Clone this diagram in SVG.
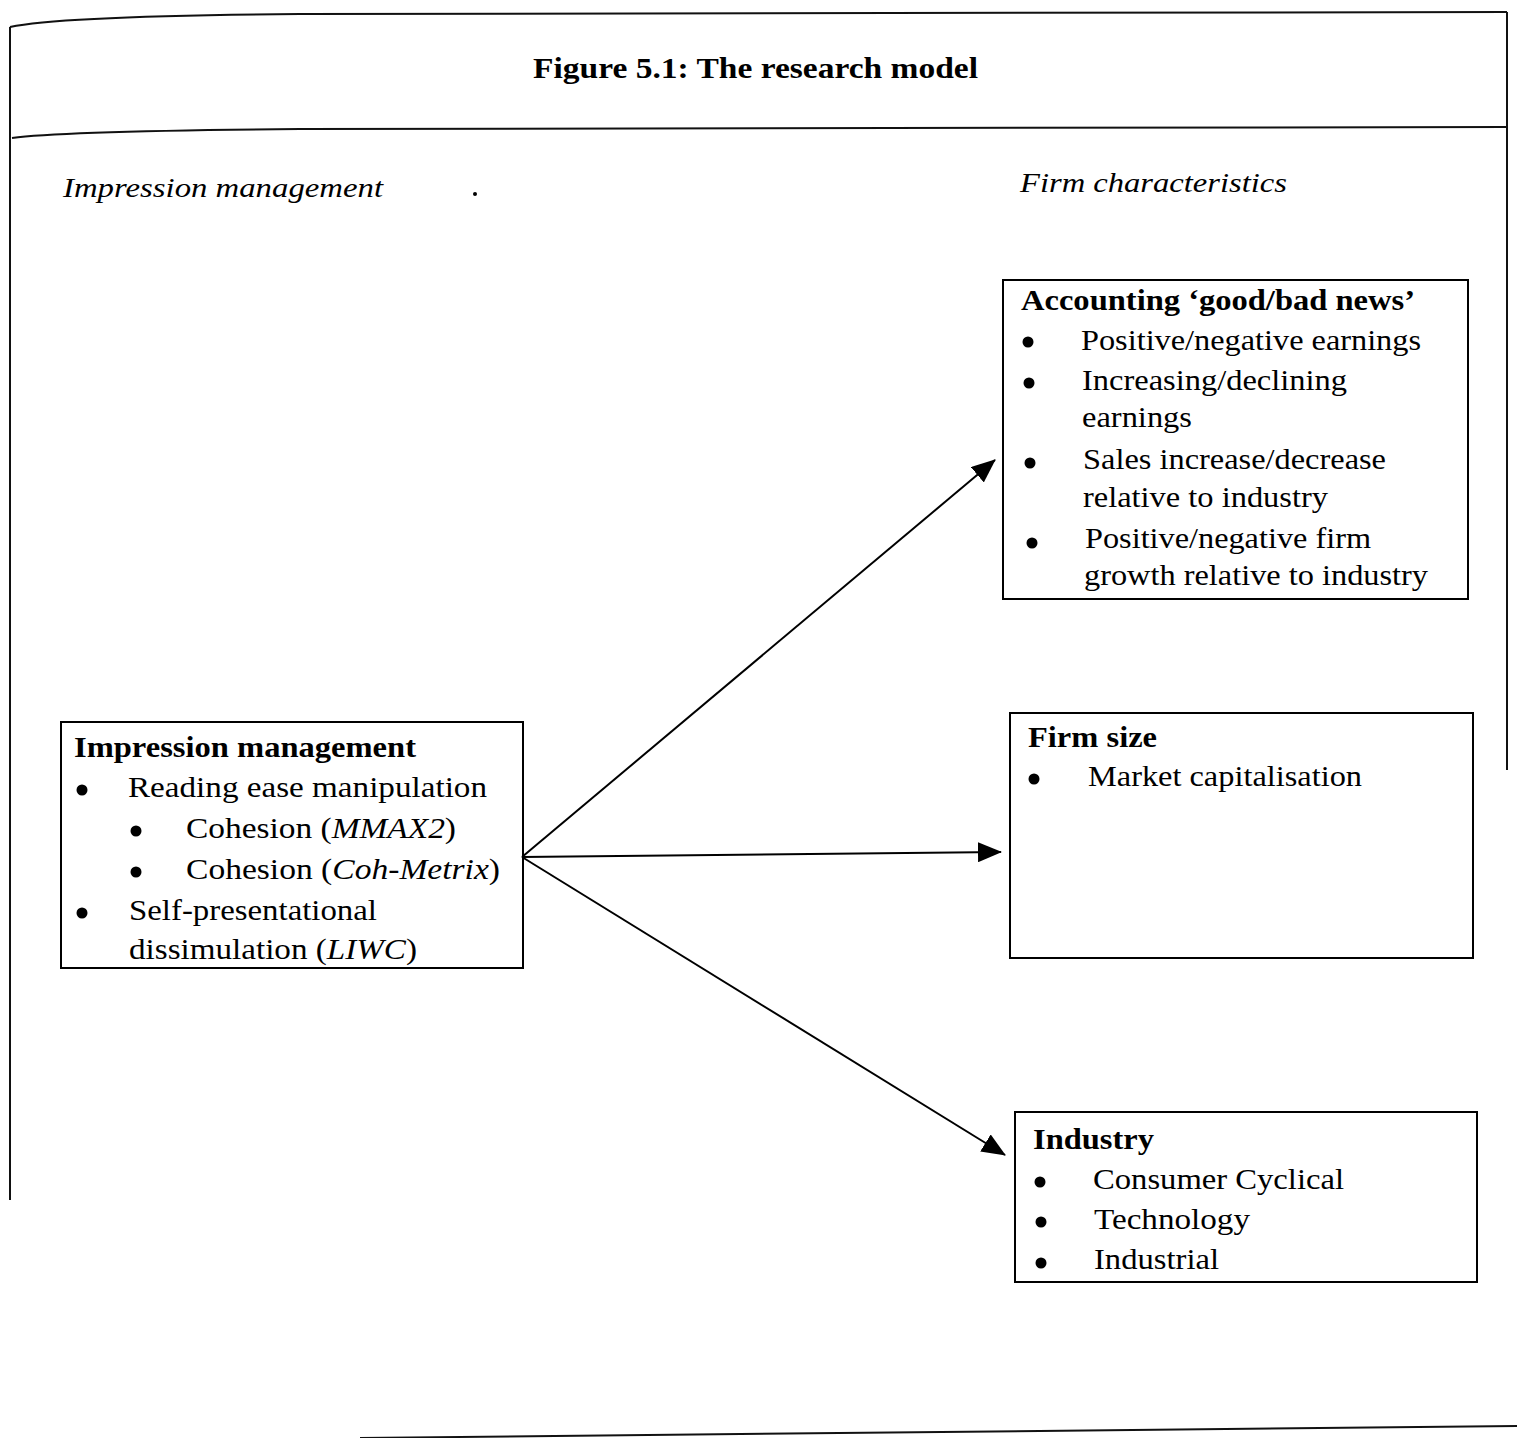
<svg xmlns="http://www.w3.org/2000/svg" width="1517" height="1438" viewBox="0 0 1517 1438">
<style>
text{font-family:"Liberation Serif","Times New Roman",serif;fill:#000}
.t{font-size:30px}
.b{font-weight:bold;font-size:29px}
.i{font-style:italic}
.h{font-style:italic;font-size:28px}
.box{fill:none;stroke:#000;stroke-width:2}
.fr{fill:none;stroke:#111;stroke-width:2}
.con{stroke:#000;stroke-width:2;fill:none}
.dot{fill:#000}
</style>
<defs>
<marker id="ah" viewBox="0 0 24 20" refX="23" refY="10" markerWidth="24" markerHeight="20" markerUnits="userSpaceOnUse" orient="auto">
<path d="M0,0 L24,10 L0,20 Z" fill="#000"/>
</marker>
</defs>
<rect width="1517" height="1438" fill="#fff"/>
<g id="frame">
<path class="fr" d="M10,27 Q60,16 300,14 L1507,12"/>
<path class="fr" d="M12,138 Q60,131 300,129 L1507,127"/>
<path class="fr" d="M10,27 L10,1200"/>
<path class="fr" d="M1507,12 L1507,770"/>
<path class="fr" d="M360,1438 L1517,1426"/>
</g>
<g id="title">
<text x="533" y="78" class="b" textLength="445" lengthAdjust="spacingAndGlyphs">Figure 5.1: The research model</text>
</g>
<g id="headers">
<text x="63" y="197" class="h" textLength="320" lengthAdjust="spacingAndGlyphs">Impression management</text>
<circle cx="475" cy="194" r="2" class="dot"/>
<text x="1020" y="192" class="h" textLength="267" lengthAdjust="spacingAndGlyphs">Firm characteristics</text>
</g>
<g id="connectors">
<line class="con" x1="522" y1="857" x2="995" y2="460" marker-end="url(#ah)"/>
<line class="con" x1="522" y1="857" x2="1001" y2="852" marker-end="url(#ah)"/>
<line class="con" x1="522" y1="857" x2="1005" y2="1155" marker-end="url(#ah)"/>
</g>
<g id="node-impression">
<rect class="box" x="61" y="722" width="462" height="246"/>
<text x="74" y="757" class="b" textLength="342" lengthAdjust="spacingAndGlyphs">Impression management</text>
<circle cx="82" cy="790" r="5.5" class="dot"/>
<text x="128" y="797" class="t" textLength="359" lengthAdjust="spacingAndGlyphs">Reading ease manipulation</text>
<circle cx="136" cy="831" r="5.5" class="dot"/>
<text x="186" y="838" class="t" textLength="270" lengthAdjust="spacingAndGlyphs">Cohesion (<tspan class="i">MMAX2</tspan>)</text>
<circle cx="136" cy="872" r="5.5" class="dot"/>
<text x="186" y="879" class="t" textLength="314" lengthAdjust="spacingAndGlyphs">Cohesion (<tspan class="i">Coh-Metrix</tspan>)</text>
<circle cx="82" cy="913" r="5.5" class="dot"/>
<text x="129" y="920" class="t" textLength="248" lengthAdjust="spacingAndGlyphs">Self-presentational</text>
<text x="129" y="959" class="t" textLength="288" lengthAdjust="spacingAndGlyphs">dissimulation (<tspan class="i">LIWC</tspan>)</text>
</g>
<g id="node-accounting">
<rect class="box" x="1003" y="280" width="465" height="319"/>
<text x="1021" y="310" class="b" textLength="394" lengthAdjust="spacingAndGlyphs">Accounting ‘good/bad news’</text>
<circle cx="1028" cy="342" r="5.5" class="dot"/>
<text x="1081" y="350" class="t" textLength="340" lengthAdjust="spacingAndGlyphs">Positive/negative earnings</text>
<circle cx="1029" cy="383" r="5.5" class="dot"/>
<text x="1082" y="390" class="t" textLength="265" lengthAdjust="spacingAndGlyphs">Increasing/declining</text>
<text x="1082" y="427" class="t" textLength="110" lengthAdjust="spacingAndGlyphs">earnings</text>
<circle cx="1030" cy="463" r="5.5" class="dot"/>
<text x="1083" y="469" class="t" textLength="303" lengthAdjust="spacingAndGlyphs">Sales increase/decrease</text>
<text x="1083" y="507" class="t" textLength="245" lengthAdjust="spacingAndGlyphs">relative to industry</text>
<circle cx="1032" cy="543" r="5.5" class="dot"/>
<text x="1085" y="548" class="t" textLength="286" lengthAdjust="spacingAndGlyphs">Positive/negative firm</text>
<text x="1084" y="585" class="t" textLength="344" lengthAdjust="spacingAndGlyphs">growth relative to industry</text>
</g>
<g id="node-firmsize">
<rect class="box" x="1010" y="713" width="463" height="245"/>
<text x="1028" y="747" class="b" textLength="129" lengthAdjust="spacingAndGlyphs">Firm size</text>
<circle cx="1034" cy="779" r="5.5" class="dot"/>
<text x="1088" y="786" class="t" textLength="274" lengthAdjust="spacingAndGlyphs">Market capitalisation</text>
</g>
<g id="node-industry">
<rect class="box" x="1015" y="1112" width="462" height="170"/>
<text x="1033" y="1149" class="b" textLength="121" lengthAdjust="spacingAndGlyphs">Industry</text>
<circle cx="1040" cy="1182" r="5.5" class="dot"/>
<text x="1093" y="1189" class="t" textLength="251" lengthAdjust="spacingAndGlyphs">Consumer Cyclical</text>
<circle cx="1041" cy="1222" r="5.5" class="dot"/>
<text x="1094" y="1229" class="t" textLength="156" lengthAdjust="spacingAndGlyphs">Technology</text>
<circle cx="1041" cy="1263" r="5.5" class="dot"/>
<text x="1094" y="1269" class="t" textLength="125" lengthAdjust="spacingAndGlyphs">Industrial</text>
</g>
</svg>
